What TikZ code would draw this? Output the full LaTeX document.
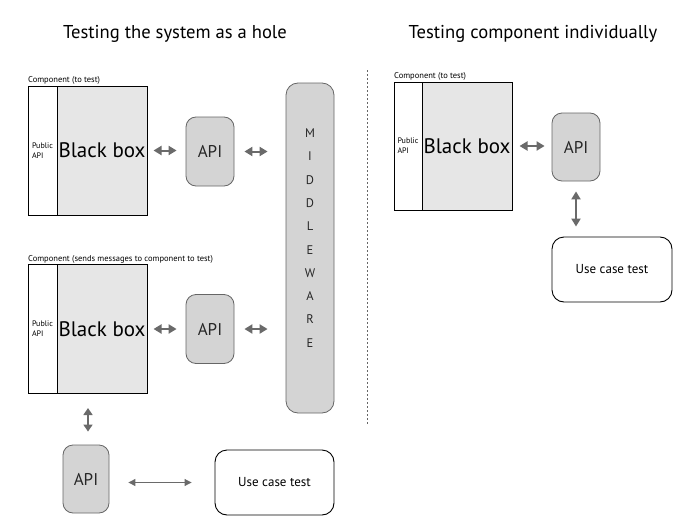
\documentclass[tikz,border=0pt]{standalone}
\usepackage{fontspec}
\setmainfont{PT Sans}
\usetikzlibrary{arrows.meta}
\definecolor{bbfill}{HTML}{E6E6E6}
\definecolor{apifill}{HTML}{D4D4D4}
\definecolor{apiline}{HTML}{666666}
\definecolor{arr}{HTML}{6A6A6A}
\begin{document}
\begin{tikzpicture}[x=1pt,y=-1pt,
 title/.style={font=\fontsize{18.6}{22}\selectfont, inner sep=0},
 cmplabel/.style={font=\fontsize{8.5}{10}\selectfont, anchor=south west, inner sep=0},
 pubbox/.style={draw, line width=1pt, fill=white, minimum width=29pt, minimum height=129pt, inner sep=0, font=\fontsize{8}{10}\selectfont, align=left},
 bbbox/.style={draw, line width=1pt, fill=bbfill, minimum width=90pt, minimum height=129pt, inner sep=0, font=\fontsize{21}{24}\selectfont},
 apibox/.style={draw=apiline, line width=0.8pt, fill=apifill, rounded corners=10pt, minimum width=48pt, minimum height=69pt, inner sep=0, text=black!85, font=\fontsize{17}{19}\selectfont},
 ucbox/.style={draw, line width=0.9pt, rounded corners=12pt, minimum width=119pt, minimum height=65pt, font=\fontsize{13}{15}\selectfont},
 biarrow/.style={draw=arr, line width=2pt, {Triangle[length=8pt,width=9pt]}-{Triangle[length=8pt,width=9pt]}},
 thinarrow/.style={draw=arr, line width=1pt, {Triangle[length=7pt,width=7pt]}-{Triangle[length=7pt,width=7pt]}},
]
\useasboundingbox (0,0) rectangle (680,522);
% titles
\node[title] (t1) at (175,34) {Testing the system as a hole};
\node[title] (t2) at (533,34) {Testing component individually};
% component 1
\node[cmplabel] (l1) at (28,85) {Component (to test)};
\node[bbbox] (bb1) at (102,150.5) {Black box};
\node[pubbox] (pub1) at (42.5,150.5) {Public\\API};
\node[apibox] (api1) at (210,151.5) {API};
% component 2
\node[cmplabel] (l2) at (28,264) {Component (sends messages to component to test)};
\node[bbbox] (bb2) at (102,329) {Black box};
\node[pubbox] (pub2) at (42.5,329) {Public\\API};
\node[apibox] (api2) at (210,329) {API};
% middleware
\node[apibox, minimum width=48pt, minimum height=330pt, rounded corners=12pt] (mw) at (310,248) {};
\node[align=center, inner sep=0, text=black!85, font=\fontsize{12.5}{23.3}\selectfont] (mwt) at (310,238) {M\\I\\D\\D\\L\\E\\W\\A\\R\\E};
% bottom
\node[apibox, minimum width=46pt, minimum height=68pt] (api3) at (86,479) {API};
\node[ucbox] (uc1) at (274.5,482.5) {Use case test};
% divider
\coordinate (d1) at (367,70);
\coordinate (d2) at (367,425);
\draw[draw=black!60, line width=0.6pt, dash pattern=on 2pt off 2pt] (d1) -- (d2);
% right side
\node[cmplabel] (l3) at (394,81) {Component (to test)};
\node[bbbox, minimum height=128pt] (bb3) at (467,146) {Black box};
\node[pubbox, minimum height=128pt, minimum width=28pt] (pub3) at (408,146) {Public\\API};
\node[apibox, minimum height=68pt] (api4) at (576,147) {API};
\node[ucbox, minimum width=120pt] (uc2) at (612,269.5) {Use case test};
% arrows
\draw[biarrow, shorten <=6pt, shorten >=9pt] (bb1.east) -- (bb1.east -| api1.west);
\draw[biarrow, shorten <=10pt, shorten >=18pt] (api1.east) -- (api1.east -| mw.west);
\draw[biarrow, shorten <=6pt, shorten >=9pt] (bb2.east) -- (bb2.east -| api2.west);
\draw[biarrow, shorten <=10pt, shorten >=18pt] (api2.east) -- (api2.east -| mw.west);
\draw[biarrow, line width=1.5pt, {Triangle[length=7pt,width=9pt]}-{Triangle[length=7pt,width=9pt]}, shorten <=14pt, shorten >=13pt] ([xshift=2pt]api3.north |- bb2.south) -- ([xshift=2pt]api3.north);
\draw[thinarrow, shorten <=19pt, shorten >=23pt] (api3.east |- uc1.west) -- (uc1.west);
\draw[biarrow, shorten <=7pt, shorten >=7pt] (bb3.east) -- (bb3.east -| api4.west);
\draw[biarrow, shorten <=10pt, shorten >=10pt] (api4.south) -- (api4.south |- uc2.north);
\end{tikzpicture}
\end{document}
